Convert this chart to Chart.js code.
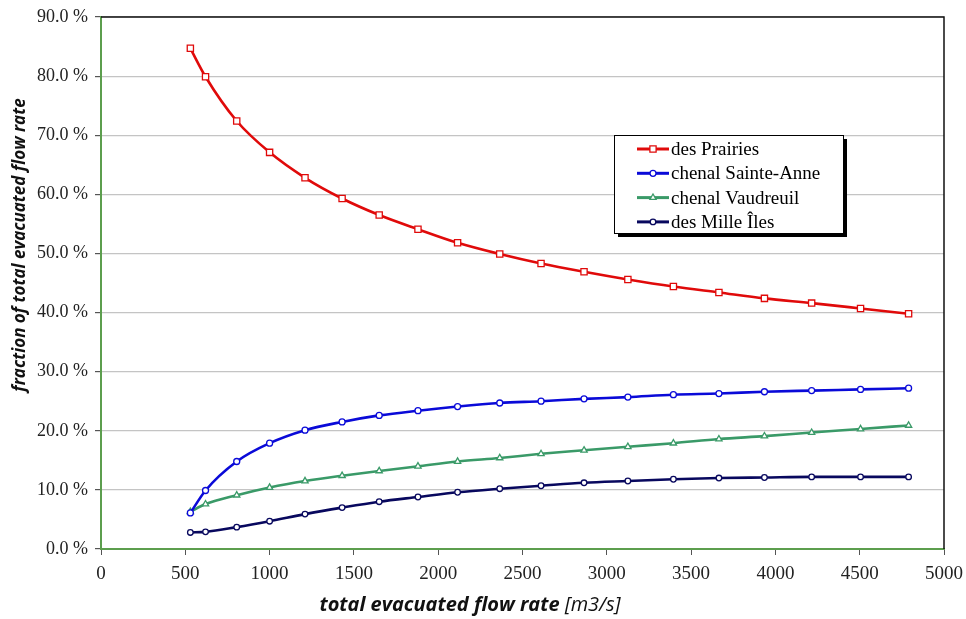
<!DOCTYPE html>
<html>
<head>
<meta charset="utf-8">
<script src="https://cdn.jsdelivr.net/npm/chart.js@4.4.1/dist/chart.umd.min.js"></script>
<style>
  html, body { margin: 0; padding: 0; background: #fff; }
  #wrap { width: 966px; height: 619px; }
</style>
</head>
<body>
<div id="wrap"><canvas id="flowChart" width="966" height="619"></canvas></div>
<script>
// total evacuated flow rate [m3/s], shared by all four channels
const flowRates = [530, 620, 805, 1000, 1210, 1430, 1650, 1880, 2115, 2365, 2610, 2865, 3125, 3395, 3665, 3935, 4215, 4505, 4790]

// fraction of total flow, in percent
const desPrairies = [84.7, 79.9, 72.4, 67.1, 62.8, 59.3, 56.5, 54.1, 51.8, 49.9, 48.3, 46.9, 45.6, 44.4, 43.4, 42.4, 41.6, 40.7, 39.8]
const sainteAnne = [6.1, 9.9, 14.8, 17.9, 20.1, 21.5, 22.6, 23.4, 24.1, 24.7, 25.0, 25.4, 25.7, 26.1, 26.3, 26.6, 26.8, 27.0, 27.2]
const vaudreuil = [6.3, 7.6, 9.1, 10.4, 11.5, 12.4, 13.2, 14.0, 14.8, 15.4, 16.1, 16.7, 17.3, 17.9, 18.6, 19.1, 19.7, 20.3, 20.9]
const milleIles = [2.8, 2.9, 3.7, 4.7, 5.9, 7.0, 8.0, 8.8, 9.6, 10.2, 10.7, 11.2, 11.5, 11.8, 12.0, 12.1, 12.2, 12.2, 12.2]

const seriesNames = ["des Prairies", "chenal Sainte-Anne", "chenal Vaudreuil", "des Mille Îles"]
const xTickStep = 500
const yTickStep = 10

const serif = "'Liberation Serif', 'Times New Roman', serif"
const axisGreen = "#5c9e4e"

function makeSet(label, values, color, style, radius){
    return {
        label: label,
        data: values.map((v, i) => ({ x: flowRates[i], y: v })),
        borderColor: color,
        backgroundColor: "#ffffff",
        borderWidth: 2.6,
        pointStyle: style,
        pointRadius: radius,
        pointBorderWidth: 1.3,
        pointBorderColor: color,
        pointBackgroundColor: "#ffffff",
        cubicInterpolationMode: "monotone",
        fill: false
    }
}

const datasets = [
    makeSet(seriesNames[0], desPrairies, "#e00a0a", "rect", 4.4),
    makeSet(seriesNames[1], sainteAnne, "#0a0ad8", "circle", 3),
    makeSet(seriesNames[2], vaudreuil, "#3a9a68", "triangle", 3.6),
    makeSet(seriesNames[3], milleIles, "#08085e", "circle", 2.8)
]

// top/right frame, boxed legend with shadow, and the two axis titles
const decorations = {
    id: "decorations",
    afterDraw(chart){
        const ctx = chart.ctx
        const a = chart.chartArea
        ctx.save()

        ctx.strokeStyle = "#111"
        ctx.lineWidth = 1.5
        ctx.beginPath()
        ctx.moveTo(a.left, a.top)
        ctx.lineTo(a.right, a.top)
        ctx.lineTo(a.right, a.bottom)
        ctx.stroke()

        // legend
        const lx = 614, ly = 135, lw = 229, lh = 98
        ctx.fillStyle = "#000"
        ctx.fillRect(lx + 4, ly + 4, lw, lh)
        ctx.fillStyle = "#fff"
        ctx.fillRect(lx, ly, lw, lh)
        ctx.strokeStyle = "#000"
        ctx.lineWidth = 1
        ctx.strokeRect(lx + 0.5, ly + 0.5, lw, lh)

        ctx.font = "19px " + serif
        ctx.textBaseline = "middle"
        ctx.textAlign = "left"
        chart.data.datasets.forEach((ds, i) => {
            const y = 149 + i * 24.3
            ctx.strokeStyle = ds.borderColor
            ctx.lineWidth = 3
            ctx.beginPath()
            ctx.moveTo(637, y)
            ctx.lineTo(669, y)
            ctx.stroke()
            ctx.fillStyle = "#fff"
            ctx.strokeStyle = ds.borderColor
            ctx.lineWidth = 1.3
            Chart.helpers.drawPoint(ctx, { pointStyle: ds.pointStyle, radius: ds.pointRadius, rotation: 0, borderWidth: 1.3 }, 653, y)
            ctx.fillStyle = "#000"
            ctx.fillText(ds.label, 671, y + 1)
        })

        // x title: bold italic part then italic unit
        const boldPart = "total evacuated flow rate "
        const unitPart = "[m3/s]"
        const boldFont = "italic bold 20px 'Open Sans', sans-serif"
        const unitFont = "italic 20px 'Open Sans', sans-serif"
        ctx.font = boldFont
        const w1 = ctx.measureText(boldPart).width
        ctx.font = unitFont
        const w2 = ctx.measureText(unitPart).width
        let tx = 470 - (w1 + w2) / 2
        ctx.fillStyle = "#111"
        ctx.font = boldFont
        ctx.fillText(boldPart, tx, 605)
        ctx.font = unitFont
        ctx.fillText(unitPart, tx + w1, 605)

        // y title
        ctx.translate(20, 245)
        ctx.rotate(-Math.PI / 2)
        ctx.textAlign = "center"
        ctx.font = "italic bold 17px 'Open Sans', sans-serif"
        ctx.fillText("fraction of total evacuated flow rate", 0, 0)

        ctx.restore()
    }
}

const chart = new Chart(document.getElementById("flowChart").getContext("2d"), {
    type: "line",
    data: { datasets: datasets },
    options: {
        responsive: false,
        animation: false,
        devicePixelRatio: 1,
        layout: { padding: { top: 17, right: 22, left: 0, bottom: 0 } },
        plugins: {
            legend: { display: false },
            tooltip: { enabled: false }
        },
        scales: {
            x: {
                type: "linear",
                min: 0,
                max: 5000,
                afterFit: s => { s.height = 70; s.paddingLeft = 0; s.paddingRight = 0 },
                ticks: {
                    stepSize: xTickStep,
                    font: { family: serif, size: 19 },
                    color: "#222",
                    padding: 8,
                    maxRotation: 0,
                    callback: v => String(v)
                },
                grid: { drawOnChartArea: false, tickLength: 6, tickColor: "#555" },
                border: { color: axisGreen, width: 2 }
            },
            y: {
                min: 0,
                max: 90,
                afterFit: s => { s.width = 101; s.paddingTop = 0; s.paddingBottom = 0 },
                ticks: {
                    stepSize: yTickStep,
                    font: { family: serif, size: 18 },
                    color: "#222",
                    padding: 7,
                    callback: v => v.toFixed(1) + " %"
                },
                grid: { color: "#c4c4c4", lineWidth: 1.2, tickLength: 6, tickColor: "#555" },
                border: { color: axisGreen, width: 2 }
            }
        }
    },
    plugins: [decorations]
})
</script>
</body>
</html>
